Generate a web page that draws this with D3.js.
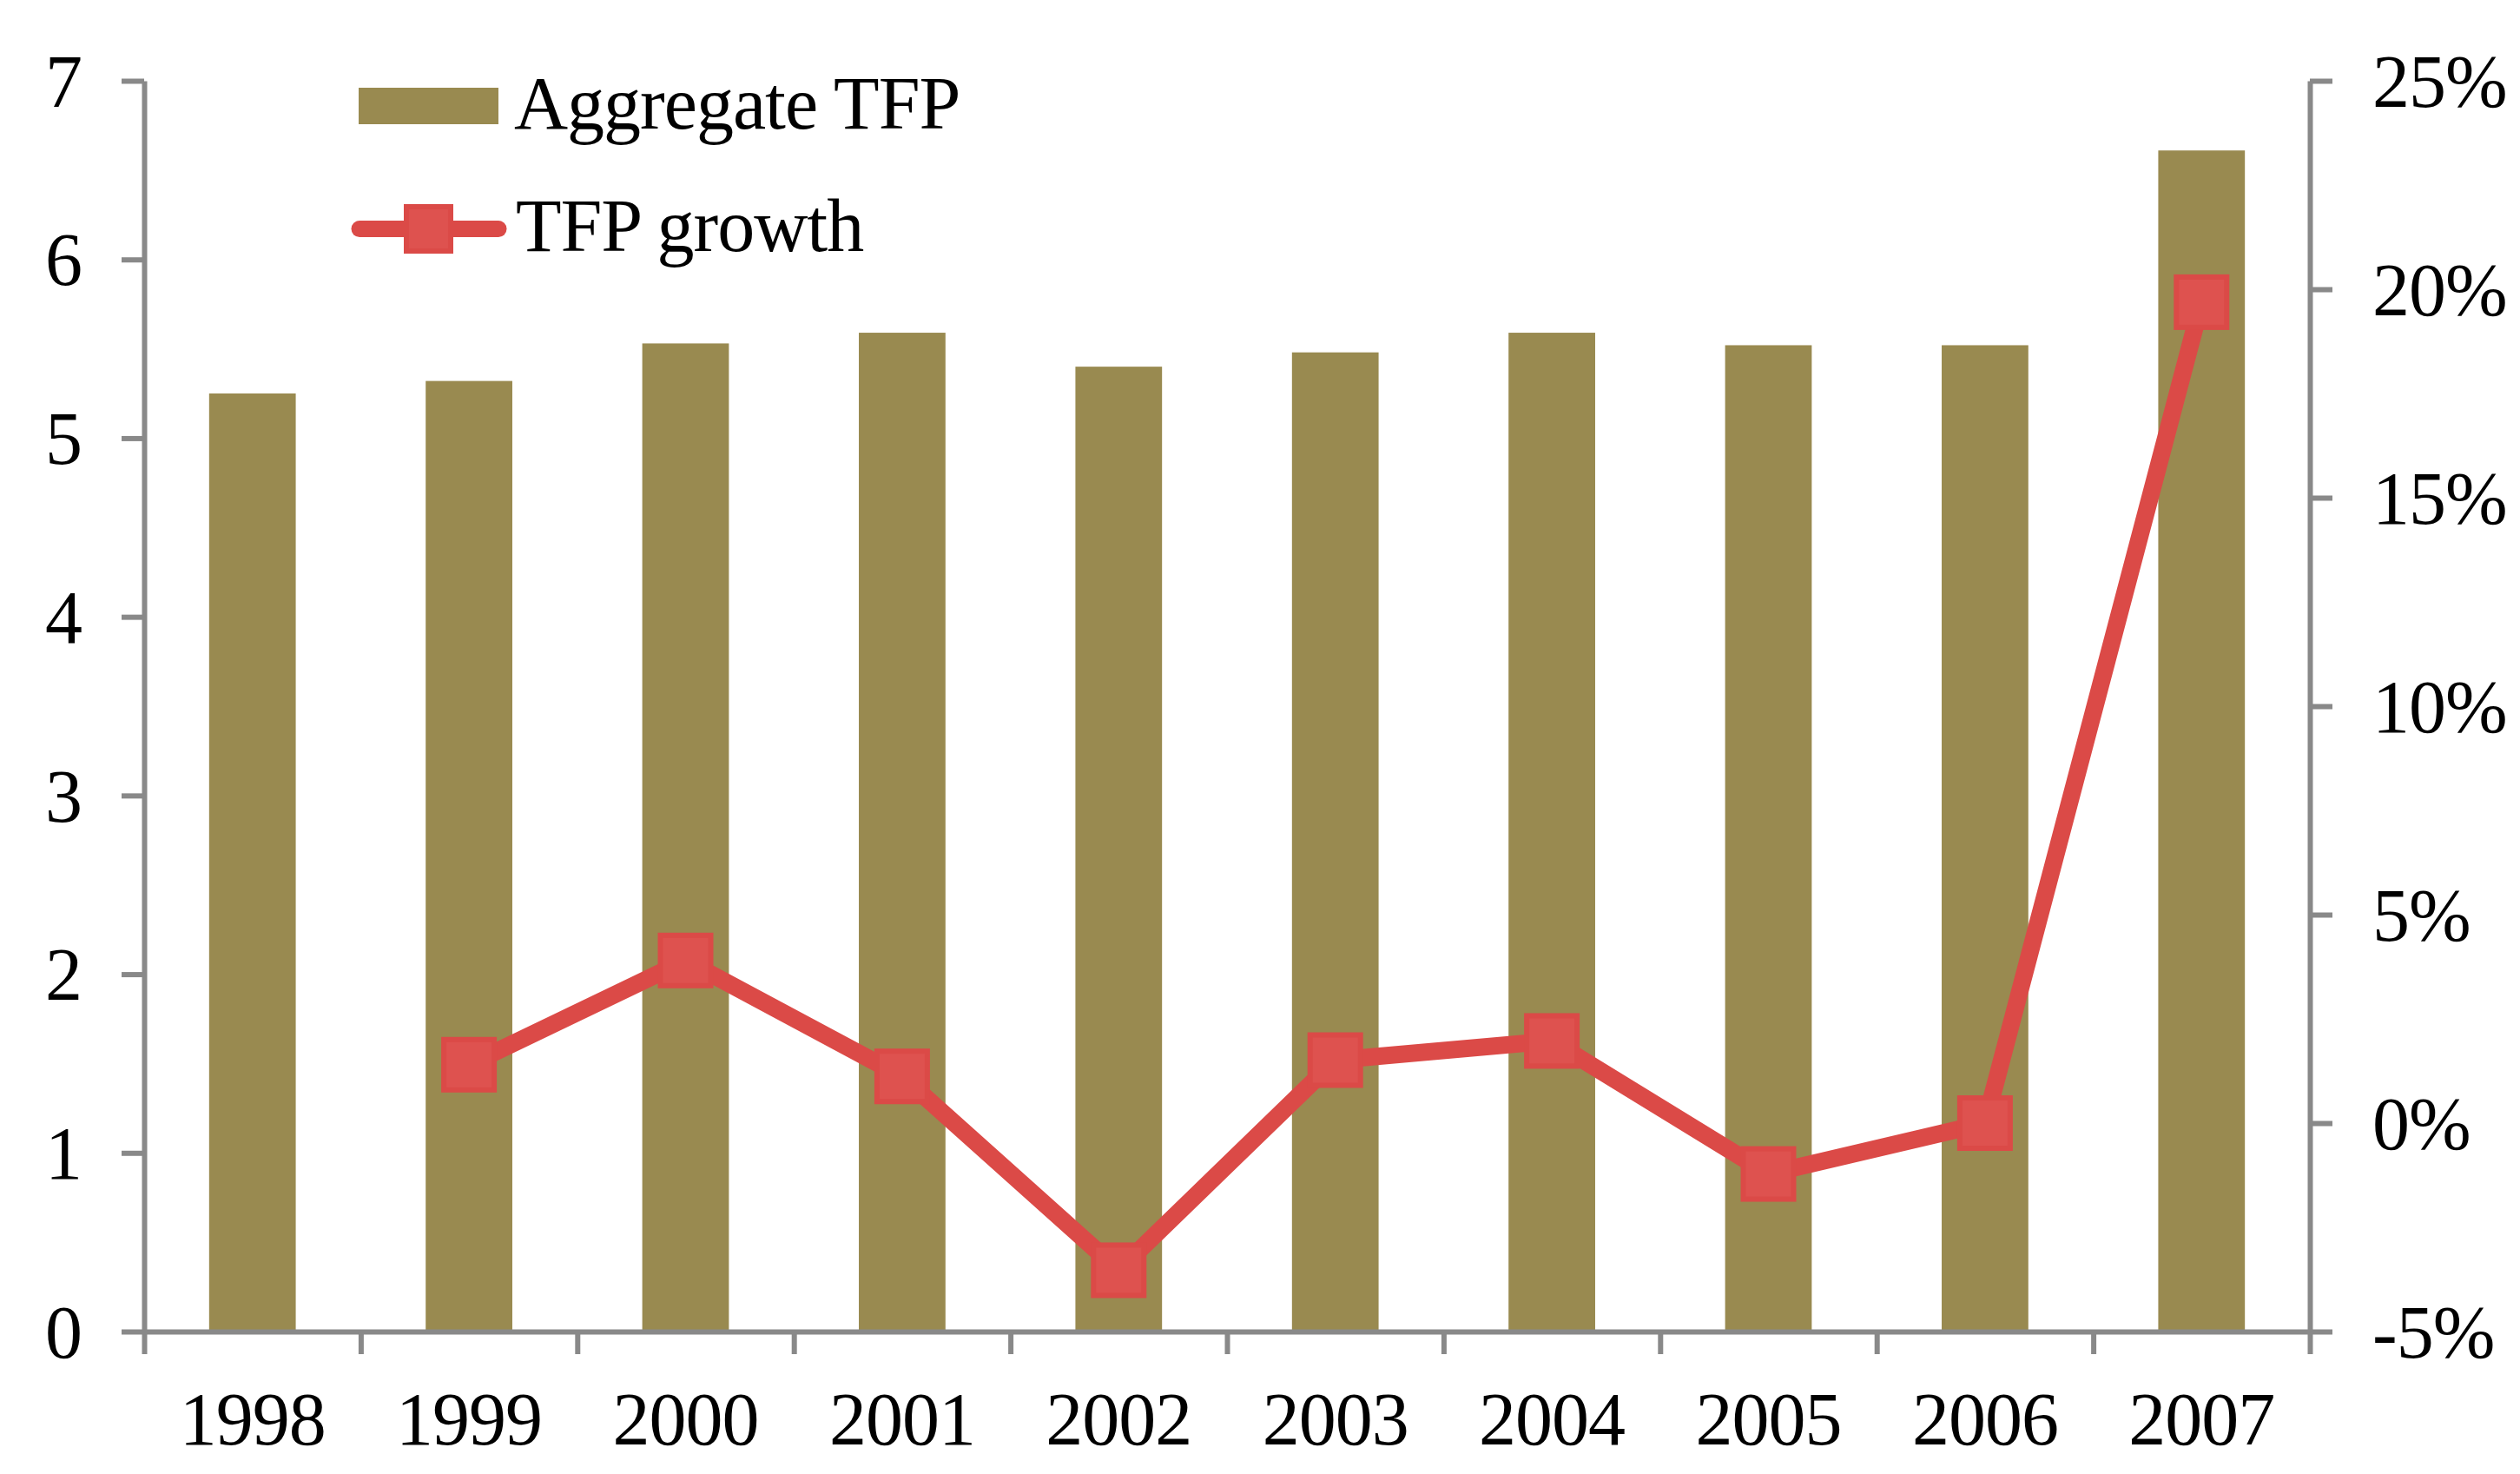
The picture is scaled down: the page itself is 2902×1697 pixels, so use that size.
<!DOCTYPE html>
<html>
<head>
<meta charset="utf-8">
<script src="https://cdn.jsdelivr.net/npm/d3@7"></script>
<style>
  body { margin: 0; background: #fff; }
  text { font-family: "Liberation Serif", "Times New Roman", serif; fill: #000; }
</style>
</head>
<body>
<div id="chart"></div>
<script>
// data
var years = ["1998", "1999", "2000", "2001", "2002", "2003", "2004", "2005", "2006", "2007"];
var aggregateTFP = [5.25, 5.32, 5.53, 5.59, 5.40, 5.48, 5.59, 5.52, 5.52, 6.61];
var tfpGrowth = [null, 0.014, 0.039, 0.0112, -0.0353, 0.0151, 0.0197, -0.0122, 0.0, 0.1969];
var leftTicks = [0, 1, 2, 3, 4, 5, 6, 7];
var rightTicks = [-0.05, 0, 0.05, 0.10, 0.15, 0.20, 0.25];

var svgWidth = 2902;
var svgHeight = 1697;
var plot = { left: 166, right: 2660, top: 93, bottom: 1533 };

var barColor = "#998a50";
var lineColor = "#db4a47";
var markerFill = "#de524f";
var axisColor = "#898989";
var fontSize = 86;

var svg = d3.select("#chart").append("svg")
    .attr("width", svgWidth)
    .attr("height", svgHeight);

// scales
var x = d3.scaleBand()
    .domain(years)
    .range([plot.left, plot.right])
    .paddingInner(0.6)
    .paddingOuter(0.3);

var xEdges = d3.scaleLinear()
    .domain([0, years.length])
    .range([plot.left, plot.right]);

var yLeft = d3.scaleLinear().domain([0, 7]).range([plot.bottom, plot.top]);
var yRight = d3.scaleLinear().domain([-0.05, 0.25]).range([plot.bottom, plot.top]);

// bars
svg.append("g").selectAll("rect")
    .data(aggregateTFP)
    .enter()
    .append("rect")
    .attr("x", (d, i) => x(years[i]))
    .attr("y", d => yLeft(d))
    .attr("width", x.bandwidth())
    .attr("height", d => yLeft(0) - yLeft(d))
    .attr("fill", barColor);

function styleAxis(g) {
    g.select(".domain").attr("stroke", axisColor).attr("stroke-width", 6);
    g.selectAll(".tick line").attr("stroke", axisColor).attr("stroke-width", 6);
    g.selectAll("text").style("font-size", fontSize + "px")
        .style("letter-spacing", "-1px").attr("fill", "#000");
}

// left axis
var leftAxis = svg.append("g")
    .attr("transform", `translate(${plot.left},0)`)
    .call(d3.axisLeft(yLeft).tickValues(leftTicks).tickFormat(d3.format("d"))
        .tickSizeInner(26).tickSizeOuter(0).tickPadding(46));
styleAxis(leftAxis);
leftAxis.selectAll("text").attr("dy", "0.34em");

// right axis, plain hyphen for the minus sign like the original
var pct = d => Math.round(d * 100) + "%";
var rightAxis = svg.append("g")
    .attr("transform", `translate(${plot.right},0)`)
    .call(d3.axisRight(yRight).tickValues(rightTicks).tickFormat(pct)
        .tickSizeInner(26).tickSizeOuter(0).tickPadding(46));
styleAxis(rightAxis);
rightAxis.selectAll("text").attr("dy", "0.34em");

// x axis: boundary ticks
var xTickAxis = svg.append("g")
    .attr("transform", `translate(0,${plot.bottom})`)
    .call(d3.axisBottom(xEdges).ticks(years.length).tickFormat("")
        .tickSizeInner(26).tickSizeOuter(0));
styleAxis(xTickAxis);

// x axis: year labels
var xLabelAxis = svg.append("g")
    .attr("transform", `translate(0,${plot.bottom})`)
    .call(d3.axisBottom(x).tickSize(0).tickPadding(69));
xLabelAxis.select(".domain").remove();
styleAxis(xLabelAxis);

// growth line
var line = d3.line()
    .defined(d => d !== null)
    .x((d, i) => x(years[i]) + x.bandwidth() / 2)
    .y(d => yRight(d));

svg.append("path")
    .datum(tfpGrowth)
    .attr("fill", "none")
    .attr("stroke", lineColor)
    .attr("stroke-width", 20)
    .attr("stroke-linejoin", "round")
    .attr("d", line);

var ms = 58;
svg.append("g").selectAll("rect")
    .data(tfpGrowth.map((d, i) => ({ year: years[i], v: d })).filter(d => d.v !== null))
    .enter()
    .append("rect")
    .attr("x", d => x(d.year) + x.bandwidth() / 2 - ms / 2)
    .attr("y", d => yRight(d.v) - ms / 2)
    .attr("width", ms)
    .attr("height", ms)
    .attr("fill", markerFill)
    .attr("stroke", lineColor)
    .attr("stroke-width", 6);

// legend
var legend = svg.append("g");
legend.append("rect")
    .attr("x", 413).attr("y", 101)
    .attr("width", 161).attr("height", 42)
    .attr("fill", barColor);
legend.append("text")
    .attr("x", 592).attr("y", 148)
    .style("font-size", fontSize + "px")
    .style("letter-spacing", "-1px")
    .text("Aggregate TFP");

legend.append("line")
    .attr("x1", 414).attr("x2", 574)
    .attr("y1", 263.5).attr("y2", 263.5)
    .attr("stroke", lineColor)
    .attr("stroke-width", 19)
    .attr("stroke-linecap", "round");
legend.append("rect")
    .attr("x", 468).attr("y", 238)
    .attr("width", 51).attr("height", 51)
    .attr("fill", markerFill)
    .attr("stroke", lineColor)
    .attr("stroke-width", 6);
legend.append("text")
    .attr("x", 594).attr("y", 289)
    .style("font-size", fontSize + "px")
    .style("letter-spacing", "-1px")
    .text("TFP growth");
</script>
</body>
</html>
